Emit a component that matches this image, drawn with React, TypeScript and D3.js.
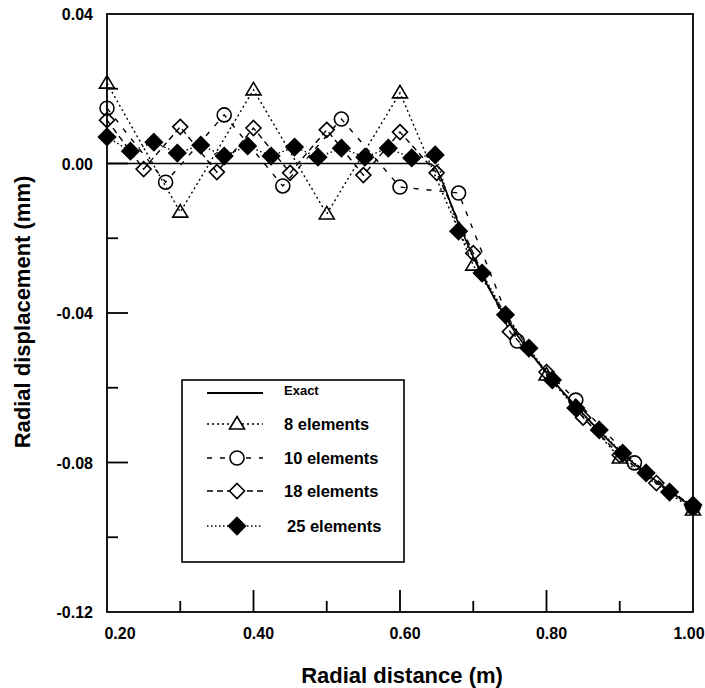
import * as d3 from 'd3';
import React, { useEffect, useRef } from 'react';

// exact solution
const exactX = [0.2, 0.64, 0.68, 0.7, 0.75, 0.8, 0.85, 0.9, 0.95, 1.0];
const exactY = [0, 0, -0.016, -0.025, -0.043, -0.056, -0.067, -0.077, -0.085, -0.092];

// 8 elements (triangles)
const el8X = [0.2, 0.3, 0.4, 0.5, 0.6, 0.7, 0.8, 0.9, 1.0];
const el8Y = [0.0215, -0.013, 0.0197, -0.0135, 0.0189, -0.0272, -0.0566, -0.0788, -0.0927];

// 10 elements (circles)
const el10X = [0.2, 0.28, 0.36, 0.44, 0.52, 0.6, 0.68, 0.76, 0.84, 0.92, 1.0];
const el10Y = [0.0148, -0.005, 0.013, -0.006, 0.0119, -0.0063, -0.0079, -0.0475, -0.0633, -0.0801, -0.0919];

// 18 elements (open diamonds)
const el18X = [0.2, 0.25, 0.3, 0.35, 0.4, 0.45, 0.5, 0.55, 0.6, 0.65, 0.7, 0.75, 0.8, 0.85, 0.9, 0.95, 1.0];
const el18Y = [0.0116, -0.0015, 0.0098, -0.0023, 0.0095, -0.0025, 0.009, -0.0031, 0.0084, -0.0025,
  -0.024, -0.045, -0.0558, -0.068, -0.078, -0.0855, -0.092];

// 25 elements (filled diamonds)
const el25X = [0.2, 0.232, 0.264, 0.296, 0.328, 0.36, 0.392, 0.424, 0.456, 0.488, 0.52, 0.552, 0.584,
  0.616, 0.648, 0.68, 0.712, 0.744, 0.776, 0.808, 0.84, 0.872, 0.904, 0.936, 0.968, 1.0];
const el25Y = [0.0071, 0.0033, 0.0057, 0.0028, 0.0049, 0.002, 0.0047, 0.002, 0.0044, 0.0017, 0.0041, 0.0017,
  0.0041, 0.0015, 0.0023, -0.0181, -0.0293, -0.0405, -0.0494, -0.0579, -0.0654, -0.0713, -0.0775, -0.0828,
  -0.0879, -0.0914];

const xTickLabels = ['0.20', '0.40', '0.60', '0.80', '1.00'];
const yTickLabels = ['0.04', '0.00', '-0.04', '-0.08', '-0.12'];
const xMinorTicks = [0.3, 0.5, 0.7, 0.9];
const yMinorTicks = [0.02, -0.02, -0.06, -0.1];

const legendLabels = ['Exact', '8 elements', '10 elements', '18 elements', '25 elements'];

const font = '"Liberation Sans", Arial, Helvetica, sans-serif';

const marker = (kind: string) => {
  if (kind === 'tri') return 'M0,-7.5L7.5,5L-7.5,5Z';
  if (kind === 'circle') return d3.symbol(d3.symbolCircle, Math.PI * 49)() as string;
  if (kind === 'diamond') return 'M0,-7.5L7.5,0L0,7.5L-7.5,0Z';
  return 'M0,-8.5L8.5,0L0,8.5L-8.5,0Z';
};

const series = [
  { xs: el8X, ys: el8Y, kind: 'tri', dash: '2,3', fill: 'none' },
  { xs: el10X, ys: el10Y, kind: 'circle', dash: '5,8', fill: 'none' },
  { xs: el18X, ys: el18Y, kind: 'diamond', dash: '6,4', fill: 'none' },
  { xs: el25X, ys: el25Y, kind: 'filled', dash: '1.5,2.5', fill: '#000' },
];

const Chart = () => {
  const svgRef = useRef(null);

  useEffect(() => {
    const svg = d3.select(svgRef.current);
    svg.selectAll('*').remove();

    const left = 107;
    const right = 693;
    const top = 14;
    const bottom = 612;

    const x = d3.scaleLinear().domain([0.2, 1.0]).range([left, right]);
    const y = d3.scaleLinear().domain([-0.12, 0.04]).range([bottom, top]);

    // frame
    svg.append('rect')
      .attr('x', left).attr('y', top)
      .attr('width', right - left).attr('height', bottom - top)
      .attr('fill', 'none').attr('stroke', '#000').attr('stroke-width', 1.8);

    // x ticks (inward)
    xTickLabels.forEach((t) => {
      const v = +t;
      if (v > 0.2 && v < 1.0) {
        svg.append('line')
          .attr('x1', x(v)).attr('x2', x(v))
          .attr('y1', bottom).attr('y2', bottom - 22)
          .attr('stroke', '#000').attr('stroke-width', 1.8);
      }
      svg.append('text')
        .attr('x', Math.min(Math.max(x(v) + 5, 120), 689))
        .attr('y', bottom + 27)
        .attr('text-anchor', 'middle')
        .attr('font-family', font).attr('font-weight', 'bold').attr('font-size', 16)
        .text(t);
    });
    xMinorTicks.forEach((v) => {
      svg.append('line')
        .attr('x1', x(v)).attr('x2', x(v))
        .attr('y1', bottom).attr('y2', bottom - 11)
        .attr('stroke', '#000').attr('stroke-width', 1.8);
    });

    // y ticks (inward)
    yTickLabels.forEach((t) => {
      const v = +t;
      if (v > -0.12 && v < 0.04) {
        svg.append('line')
          .attr('x1', left).attr('x2', left + 21)
          .attr('y1', y(v)).attr('y2', y(v))
          .attr('stroke', '#000').attr('stroke-width', 1.8);
      }
      svg.append('text')
        .attr('x', 93)
        .attr('y', y(v) + 6)
        .attr('text-anchor', 'end')
        .attr('font-family', font).attr('font-weight', 'bold').attr('font-size', 16)
        .text(t);
    });
    yMinorTicks.forEach((v) => {
      svg.append('line')
        .attr('x1', left).attr('x2', left + 11)
        .attr('y1', y(v)).attr('y2', y(v))
        .attr('stroke', '#000').attr('stroke-width', 1.8);
    });

    // axis titles
    svg.append('text')
      .attr('x', 402).attr('y', 683)
      .attr('text-anchor', 'middle')
      .attr('font-family', font).attr('font-weight', 'bold').attr('font-size', 22)
      .text('Radial distance (m)');
    svg.append('text')
      .attr('transform', 'translate(30,312) rotate(-90)')
      .attr('text-anchor', 'middle')
      .attr('font-family', font).attr('font-weight', 'bold').attr('font-size', 22)
      .text('Radial displacement (mm)');

    // exact line
    const exactLine = d3.line<number>()
      .x((_, i) => x(exactX[i]))
      .y((d) => y(d))
      .curve(d3.curveMonotoneX);
    svg.append('path')
      .datum(exactY)
      .attr('d', exactLine)
      .attr('fill', 'none').attr('stroke', '#000').attr('stroke-width', 1.6);

    // FE series
    series.forEach((s) => {
      const line = d3.line<number>()
        .x((_, i) => x(s.xs[i]))
        .y((d) => y(d));
      svg.append('path')
        .datum(s.ys)
        .attr('d', line)
        .attr('fill', 'none').attr('stroke', '#000').attr('stroke-width', 1.4)
        .attr('stroke-dasharray', s.dash);
      svg.append('g')
        .selectAll('path')
        .data(s.ys)
        .enter()
        .append('path')
        .attr('transform', (d, i) => `translate(${x(s.xs[i])},${y(d)})`)
        .attr('d', marker(s.kind))
        .attr('fill', s.fill).attr('stroke', '#000').attr('stroke-width', 1.6);
    });

    // legend
    const lg = svg.append('g');
    lg.append('rect')
      .attr('x', 182).attr('y', 380).attr('width', 222).attr('height', 182)
      .attr('fill', '#fff').attr('stroke', '#000').attr('stroke-width', 1.6);
    const rowY = [393, 424, 458, 491, 526];
    legendLabels.forEach((label, i) => {
      const yy = rowY[i];
      lg.append('line')
        .attr('x1', 207).attr('x2', 263)
        .attr('y1', yy).attr('y2', yy)
        .attr('stroke', '#000').attr('stroke-width', i === 0 ? 1.8 : 1.6)
        .attr('stroke-dasharray', i === 0 ? null : series[i - 1].dash);
      if (i > 0) {
        const s = series[i - 1];
        lg.append('path')
          .attr('transform', `translate(237,${yy})`)
          .attr('d', marker(s.kind))
          .attr('fill', s.kind === 'filled' ? '#000' : '#fff')
          .attr('stroke', '#000').attr('stroke-width', 1.6);
      }
      lg.append('text')
        .attr('x', i === 4 ? 287 : 284)
        .attr('y', yy + (i === 0 ? 2 : 6))
        .attr('font-family', font).attr('font-weight', 'bold')
        .attr('font-size', i === 0 ? 13 : 16.5)
        .text(label);
    });
  }, []);

  return (
    <svg
      ref={svgRef}
      width={705}
      height={688}
      style={{ position: 'absolute', left: 0, top: 0, background: '#fff' }}
    />
  );
};

export default function App() {
  return <Chart />;
}
